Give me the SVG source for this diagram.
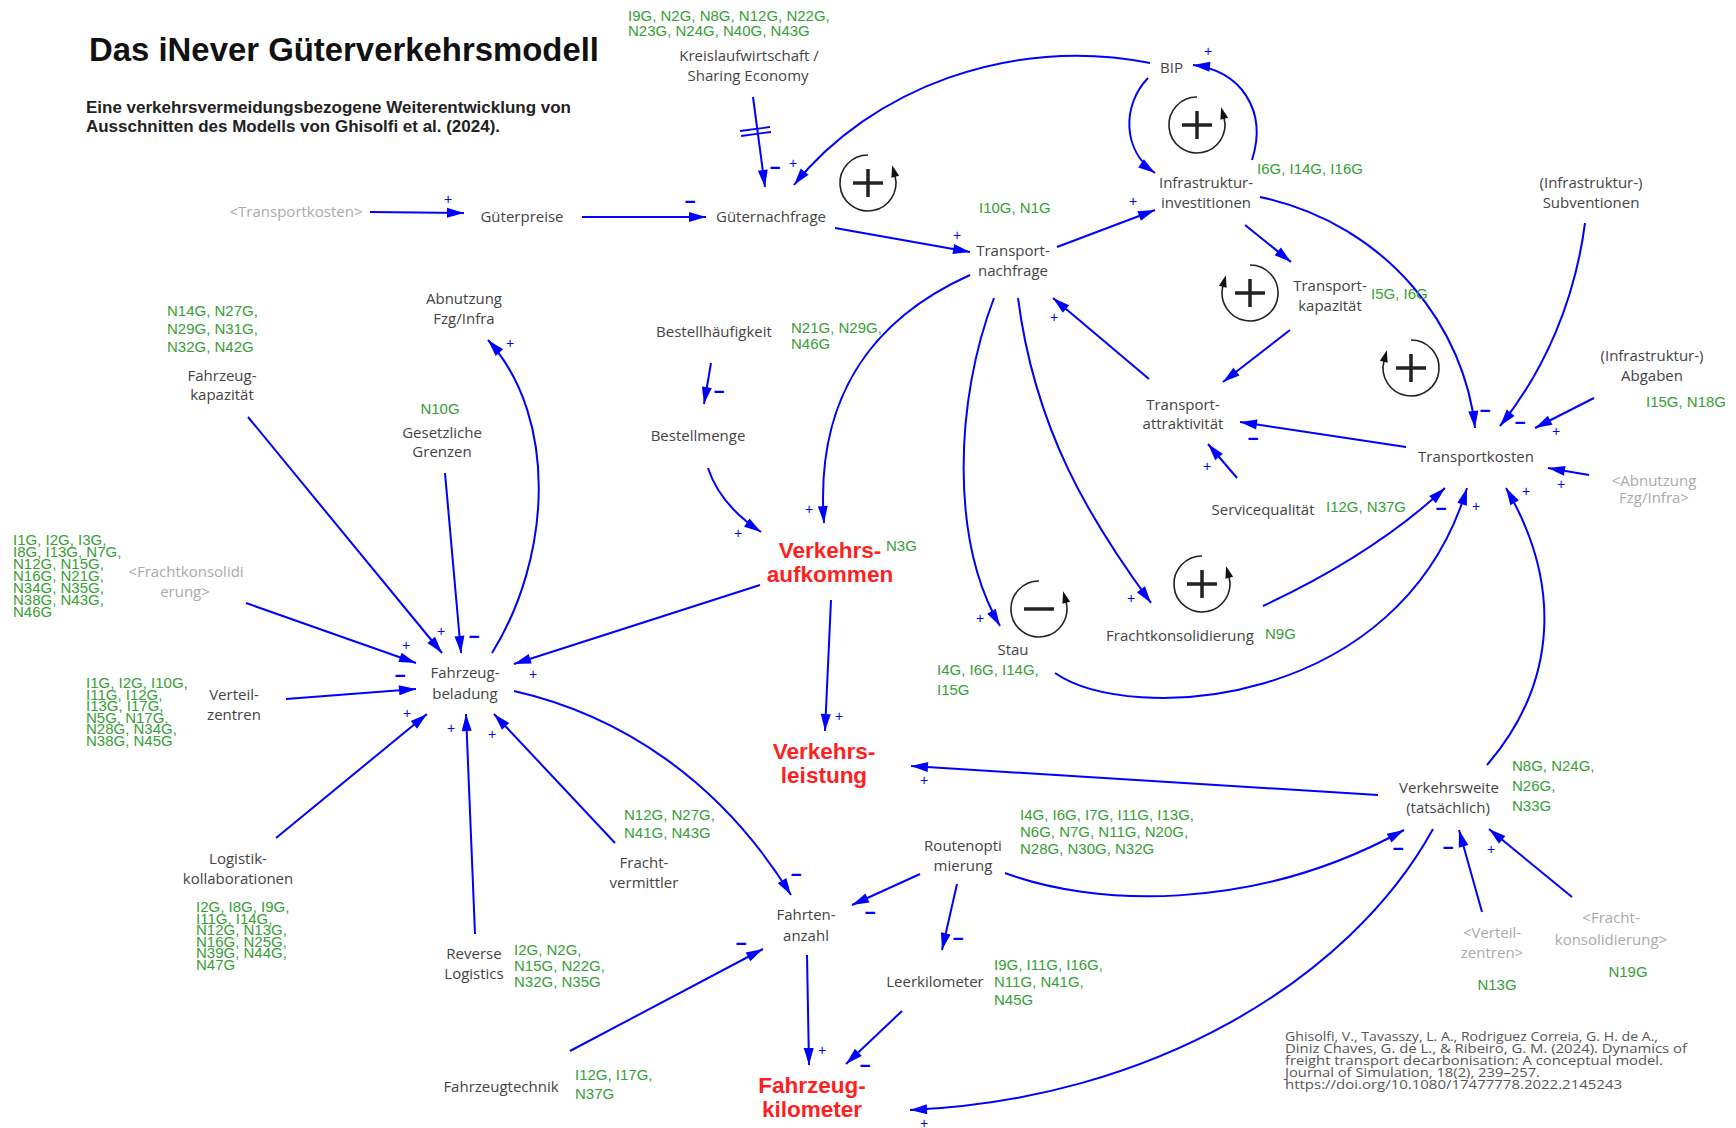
<svg xmlns="http://www.w3.org/2000/svg" width="1736" height="1128" viewBox="0 0 1736 1128">
<defs>
<style>
.n{font-family:"Open Sans","DejaVu Sans",sans-serif;font-size:15px;fill:#444;text-anchor:middle}
.sh{fill:#aaa}
.g{font-family:"Liberation Sans",Arial,sans-serif;font-size:15px;fill:#35a035}
.gm{text-anchor:middle}
.r{font-family:"Liberation Sans",Arial,sans-serif;font-size:22.5px;font-weight:bold;fill:#ff1f1f;text-anchor:middle}
.c{fill:none;stroke:#0000ff;stroke-width:2;marker-end:url(#ah)}
.hl{stroke:#0000ff;stroke-width:1.8}
.p{font-family:"Liberation Sans",Arial,sans-serif;font-size:14px;fill:#0000ff;text-anchor:middle}
.m{font-family:"Liberation Sans",Arial,sans-serif;font-size:19px;font-weight:bold;fill:#0000ff;text-anchor:middle}
.lp{fill:none;stroke:#222;stroke-width:1.6;marker-end:url(#lh)}
.ls{stroke:#222;stroke-width:3.5}
.cit{font-family:"Open Sans","DejaVu Sans",sans-serif;font-size:13px;fill:#555}
</style>
<marker id="ah" markerUnits="userSpaceOnUse" markerWidth="20" markerHeight="12" refX="17" refY="5" orient="auto" overflow="visible"><path d="M0,0 L17,5 L0,10 z" fill="#0000ff"/></marker>
<marker id="lh" markerUnits="userSpaceOnUse" markerWidth="14" markerHeight="10" refX="1" refY="4" orient="auto" overflow="visible"><path d="M0,0 L12,4 L0,8 z" fill="#111"/></marker>
</defs>
<rect width="1736" height="1128" fill="#fff"/>

<g id="title">
<text x="89" y="61" font-family="'Liberation Sans',Arial,sans-serif" font-size="33" font-weight="bold" fill="#111" textLength="510" lengthAdjust="spacingAndGlyphs">Das iNever Güterverkehrsmodell</text>
<text x="86" y="113" font-family="'Liberation Sans',Arial,sans-serif" font-size="16" font-weight="bold" fill="#222" textLength="485" lengthAdjust="spacingAndGlyphs">Eine verkehrsvermeidungsbezogene Weiterentwicklung von</text>
<text x="86" y="132" font-family="'Liberation Sans',Arial,sans-serif" font-size="16" font-weight="bold" fill="#222" textLength="414" lengthAdjust="spacingAndGlyphs">Ausschnitten des Modells von Ghisolfi et al. (2024).</text>
</g>

<g id="connectors">
<path class="c" d="M370,212 L464,213"/>
<path class="c" d="M582,217 L706,217"/>
<path class="c" d="M753,97 L765,187"/>
<line class="hl" x1="740" y1="131" x2="770" y2="127"/>
<line class="hl" x1="741" y1="136" x2="771" y2="132"/>
<path class="c" d="M1150,63 C1010,35 870,90 794,185"/>
<path class="c" d="M835,228 L970,252"/>
<path class="c" d="M1057,247 L1155,210"/>
<path class="c" d="M1148,78 C1122,105 1122,150 1155,173"/>
<path class="c" d="M1252,160 C1268,110 1240,70 1193,65"/>
<path class="c" d="M1245,225 L1291,262"/>
<path class="c" d="M1260,197 C1390,225 1465,330 1475,428"/>
<path class="c" d="M1290,330 L1223,382"/>
<path class="c" d="M1585,223 C1575,300 1545,370 1500,426"/>
<path class="c" d="M1594,398 L1535,428"/>
<path class="c" d="M1589,475 L1548,468"/>
<path class="c" d="M1406,447 L1240,422"/>
<path class="c" d="M1237,478 L1208,444"/>
<path class="c" d="M1149,379 L1053,298"/>
<path class="c" d="M970,275 C870,320 815,400 824,523"/>
<path class="c" d="M994,298 C955,400 950,540 1000,626"/>
<path class="c" d="M1018,298 C1035,430 1090,520 1151,603"/>
<path class="c" d="M1055,673 C1130,725 1400,710 1467,488"/>
<path class="c" d="M1263,606 C1340,570 1400,530 1445,488"/>
<path class="c" d="M1487,765 C1560,680 1560,580 1506,488"/>
<path class="c" d="M711,363 L704,404"/>
<path class="c" d="M708,468 Q720,505 761,532"/>
<path class="c" d="M831,600 L825,731"/>
<path class="c" d="M760,585 L514,664"/>
<path class="c" d="M248,417 L442,653"/>
<path class="c" d="M445,473 L461,653"/>
<path class="c" d="M492,653 C550,560 560,420 488,340"/>
<path class="c" d="M246,603 L416,663"/>
<path class="c" d="M286,699 L416,689"/>
<path class="c" d="M276,838 L427,714"/>
<path class="c" d="M475,934 L466,714"/>
<path class="c" d="M615,843 L494,714"/>
<path class="c" d="M514,691 C620,715 720,780 791,895"/>
<path class="c" d="M570,1051 L763,949"/>
<path class="c" d="M920,874 L852,905"/>
<path class="c" d="M957,884 L942,950"/>
<path class="c" d="M1005,873 C1090,905 1250,915 1404,830"/>
<path class="c" d="M807,955 L809,1065"/>
<path class="c" d="M902,1011 L846,1064"/>
<path class="c" d="M1433,829 C1350,980 1150,1100 910,1110"/>
<path class="c" d="M1378,795 L911,766"/>
<path class="c" d="M1482,912 L1459,830"/>
<path class="c" d="M1572,897 L1489,829"/>
</g>

<g id="polarity">
<text class="p" x="448" y="204">+</text>
<text class="p" x="793" y="168">+</text>
<text class="p" x="957" y="240">+</text>
<text class="p" x="1133" y="206">+</text>
<text class="p" x="1208" y="56">+</text>
<text class="p" x="1054" y="322">+</text>
<text class="p" x="809" y="514">+</text>
<text class="p" x="738" y="538">+</text>
<text class="p" x="839" y="721">+</text>
<text class="p" x="980" y="623">+</text>
<text class="p" x="1131" y="603">+</text>
<text class="p" x="1476" y="511">+</text>
<text class="p" x="1526" y="496">+</text>
<text class="p" x="1556" y="436">+</text>
<text class="p" x="1561" y="489">+</text>
<text class="p" x="1207" y="471">+</text>
<text class="p" x="533" y="679">+</text>
<text class="p" x="441" y="636">+</text>
<text class="p" x="510" y="348">+</text>
<text class="p" x="406" y="650">+</text>
<text class="p" x="407" y="718">+</text>
<text class="p" x="451" y="733">+</text>
<text class="p" x="492" y="739">+</text>
<text class="p" x="822" y="1055">+</text>
<text class="p" x="924" y="785">+</text>
<text class="p" x="924" y="1128">+</text>
<text class="p" x="1491" y="854">+</text>
<text class="m" x="690" y="208">−</text>
<text class="m" x="775" y="174">−</text>
<text class="m" x="1485" y="417">−</text>
<text class="m" x="1520" y="429">−</text>
<text class="m" x="1253" y="445">−</text>
<text class="m" x="719" y="398">−</text>
<text class="m" x="474" y="643">−</text>
<text class="m" x="400" y="682">−</text>
<text class="m" x="796" y="881">−</text>
<text class="m" x="741" y="950">−</text>
<text class="m" x="870" y="919">−</text>
<text class="m" x="958" y="945">−</text>
<text class="m" x="1398" y="855">−</text>
<text class="m" x="865" y="1072">−</text>
<text class="m" x="1441" y="515">−</text>
<text class="m" x="1448" y="854">−</text>
</g>

<g id="loops">
<g id="loop-R1"><path class="lp" d="M868,155 A28,28 0 1,0 895,175.8"/><line class="ls" x1="853" y1="183" x2="883" y2="183"/><line class="ls" x1="868" y1="169" x2="868" y2="197"/></g>
<g id="loop-R2"><path class="lp" d="M1197,97 A28,28 0 1,0 1224,117.8"/><line class="ls" x1="1182" y1="125" x2="1212" y2="125"/><line class="ls" x1="1197" y1="111" x2="1197" y2="139"/></g>
<g id="loop-R3"><path class="lp" d="M1250,265 A28,28 0 1,1 1223,285.8"/><line class="ls" x1="1235" y1="293" x2="1265" y2="293"/><line class="ls" x1="1250" y1="279" x2="1250" y2="307"/></g>
<g id="loop-R4"><path class="lp" d="M1411,340 A28,28 0 1,1 1384,360.8"/><line class="ls" x1="1396" y1="368" x2="1426" y2="368"/><line class="ls" x1="1411" y1="354" x2="1411" y2="382"/></g>
<g id="loop-B1"><path class="lp" d="M1039,581 A28,28 0 1,0 1066,601.8"/><line class="ls" x1="1024" y1="609" x2="1054" y2="609"/></g>
<g id="loop-R5"><path class="lp" d="M1202,556 A28,28 0 1,0 1229,576.8"/><line class="ls" x1="1187" y1="584" x2="1217" y2="584"/><line class="ls" x1="1202" y1="570" x2="1202" y2="598"/></g>
</g>

<g id="n-kreislauf"><text class="n" x="749" y="61">Kreislaufwirtschaft /</text><text class="n" x="748" y="81">Sharing Economy</text></g>
<g id="n-transportkosten-shadow"><text class="n sh" x="296" y="217">&lt;Transportkosten&gt;</text></g>
<g id="n-gueterpreise"><text class="n" x="522" y="222">Güterpreise</text></g>
<g id="n-gueternachfrage"><text class="n" x="771" y="222">Güternachfrage</text></g>
<g id="n-bip"><text class="n" x="1160" y="73" text-anchor="start" style="text-anchor:start">BIP</text></g>
<g id="n-infrastruktur"><text class="n" x="1206" y="188">Infrastruktur-</text><text class="n" x="1206" y="208">investitionen</text></g>
<g id="n-transportnachfrage"><text class="n" x="1013" y="256">Transport-</text><text class="n" x="1013" y="276">nachfrage</text></g>
<g id="n-transportkapazitaet"><text class="n" x="1330" y="291">Transport-</text><text class="n" x="1330" y="311">kapazität</text></g>
<g id="n-subventionen"><text class="n" x="1591" y="188">(Infrastruktur-)</text><text class="n" x="1591" y="208">Subventionen</text></g>
<g id="n-abgaben"><text class="n" x="1652" y="361">(Infrastruktur-)</text><text class="n" x="1652" y="381">Abgaben</text></g>
<g id="n-attraktivitaet"><text class="n" x="1183" y="410">Transport-</text><text class="n" x="1183" y="429">attraktivität</text></g>
<g id="n-transportkosten"><text class="n" x="1476" y="462">Transportkosten</text></g>
<g id="n-abnutzung-shadow"><text class="n sh" x="1654" y="486">&lt;Abnutzung</text><text class="n sh" x="1654" y="503">Fzg/Infra&gt;</text></g>
<g id="n-servicequalitaet"><text class="n" x="1263" y="515">Servicequalität</text></g>
<g id="n-bestellhaeufigkeit"><text class="n" x="714" y="337">Bestellhäufigkeit</text></g>
<g id="n-bestellmenge"><text class="n" x="698" y="441">Bestellmenge</text></g>
<g id="n-verkehrsaufkommen"><text class="r" x="830" y="558">Verkehrs-</text><text class="r" x="830" y="582">aufkommen</text></g>
<g id="n-stau"><text class="n" x="1013" y="655">Stau</text></g>
<g id="n-frachtkonsolidierung"><text class="n" x="1180" y="641">Frachtkonsolidierung</text></g>
<g id="n-abnutzung"><text class="n" x="464" y="304">Abnutzung</text><text class="n" x="464" y="324">Fzg/Infra</text></g>
<g id="n-fahrzeugkapazitaet"><text class="n" x="222" y="381">Fahrzeug-</text><text class="n" x="222" y="400">kapazität</text></g>
<g id="n-grenzen"><text class="n" x="442" y="438">Gesetzliche</text><text class="n" x="442" y="457">Grenzen</text></g>
<g id="n-frachtkonsolidierung-shadow"><text class="n sh" x="186" y="577">&lt;Frachtkonsolidi</text><text class="n sh" x="185" y="597">erung&gt;</text></g>
<g id="n-verteilzentren"><text class="n" x="234" y="700">Verteil-</text><text class="n" x="234" y="720">zentren</text></g>
<g id="n-fahrzeugbeladung"><text class="n" x="465" y="678">Fahrzeug-</text><text class="n" x="465" y="699">beladung</text></g>
<g id="n-logistik"><text class="n" x="238" y="864">Logistik-</text><text class="n" x="238" y="884">kollaborationen</text></g>
<g id="n-reverse"><text class="n" x="474" y="959">Reverse</text><text class="n" x="474" y="979">Logistics</text></g>
<g id="n-fahrzeugtechnik"><text class="n" x="501" y="1092">Fahrzeugtechnik</text></g>
<g id="n-frachtvermittler"><text class="n" x="644" y="868">Fracht-</text><text class="n" x="644" y="888">vermittler</text></g>
<g id="n-verkehrsleistung"><text class="r" x="824" y="759">Verkehrs-</text><text class="r" x="824" y="783">leistung</text></g>
<g id="n-fahrtenanzahl"><text class="n" x="806" y="920">Fahrten-</text><text class="n" x="806" y="941">anzahl</text></g>
<g id="n-routenoptimierung"><text class="n" x="963" y="851">Routenopti</text><text class="n" x="963" y="871">mierung</text></g>
<g id="n-leerkilometer"><text class="n" x="935" y="987">Leerkilometer</text></g>
<g id="n-fahrzeugkilometer"><text class="r" x="812" y="1093">Fahrzeug-</text><text class="r" x="812" y="1117">kilometer</text></g>
<g id="n-verkehrsweite"><text class="n" x="1449" y="793">Verkehrsweite</text><text class="n" x="1448" y="813">(tatsächlich)</text></g>
<g id="n-verteilzentren-shadow"><text class="n sh" x="1492" y="938">&lt;Verteil-</text><text class="n sh" x="1492" y="958">zentren&gt;</text></g>
<g id="n-frachtkonsolidierung-shadow2"><text class="n sh" x="1611" y="923">&lt;Fracht-</text><text class="n sh" x="1611" y="945">konsolidierung&gt;</text></g>

<g id="codes">
<text class="g" x="628" y="21">I9G, N2G, N8G, N12G, N22G,</text>
<text class="g" x="628" y="36">N23G, N24G, N40G, N43G</text>
<text class="g" x="979" y="213">I10G, N1G</text>
<text class="g" x="1257" y="174">I6G, I14G, I16G</text>
<text class="g" x="1371" y="299">I5G, I6G</text>
<text class="g" x="167" y="316">N14G, N27G,</text>
<text class="g" x="167" y="334">N29G, N31G,</text>
<text class="g" x="167" y="352">N32G, N42G</text>
<text class="g" x="791" y="333">N21G, N29G,</text>
<text class="g" x="791" y="349">N46G</text>
<text class="g gm" x="440" y="414">N10G</text>
<text class="g" x="1326" y="512">I12G, N37G</text>
<text class="g" x="1646" y="407">I15G, N18G</text>
<text class="g" x="886" y="551" font-size="14">N3G</text>
<text class="g" x="937" y="675">I4G, I6G, I14G,</text>
<text class="g" x="937" y="695">I15G</text>
<text class="g" x="1265" y="639">N9G</text>
<text class="g" x="13" y="545">I1G, I2G, I3G,</text>
<text class="g" x="13" y="557">I8G, I13G, N7G,</text>
<text class="g" x="13" y="569">N12G, N15G,</text>
<text class="g" x="13" y="581">N16G, N21G,</text>
<text class="g" x="13" y="593">N34G, N35G,</text>
<text class="g" x="13" y="605">N38G, N43G,</text>
<text class="g" x="13" y="617">N46G</text>
<text class="g" x="86" y="688">I1G, I2G, I10G,</text>
<text class="g" x="86" y="699.5">I11G, I12G,</text>
<text class="g" x="86" y="711">I13G, I17G,</text>
<text class="g" x="86" y="722.5">N5G, N17G,</text>
<text class="g" x="86" y="734">N28G, N34G,</text>
<text class="g" x="86" y="745.5">N38G, N45G</text>
<text class="g" x="196" y="912">I2G, I8G, I9G,</text>
<text class="g" x="196" y="923.5">I11G, I14G,</text>
<text class="g" x="196" y="935">N12G, N13G,</text>
<text class="g" x="196" y="946.5">N16G, N25G,</text>
<text class="g" x="196" y="958">N39G, N44G,</text>
<text class="g" x="196" y="969.5">N47G</text>
<text class="g" x="624" y="820">N12G, N27G,</text>
<text class="g" x="624" y="838">N41G, N43G</text>
<text class="g" x="1020" y="820">I4G, I6G, I7G, I11G, I13G,</text>
<text class="g" x="1020" y="837">N6G, N7G, N11G, N20G,</text>
<text class="g" x="1020" y="854">N28G, N30G, N32G</text>
<text class="g" x="1512" y="771">N8G, N24G,</text>
<text class="g" x="1512" y="791">N26G,</text>
<text class="g" x="1512" y="811">N33G</text>
<text class="g" x="514" y="955">I2G, N2G,</text>
<text class="g" x="514" y="971">N15G, N22G,</text>
<text class="g" x="514" y="987">N32G, N35G</text>
<text class="g" x="994" y="970">I9G, I11G, I16G,</text>
<text class="g" x="994" y="987">N11G, N41G,</text>
<text class="g" x="994" y="1005">N45G</text>
<text class="g" x="575" y="1080">I12G, I17G,</text>
<text class="g" x="575" y="1099">N37G</text>
<text class="g gm" x="1497" y="990">N13G</text>
<text class="g gm" x="1628" y="977">N19G</text>
</g>

<g id="citation">
<text class="cit" x="1285" y="1041" textLength="373" lengthAdjust="spacingAndGlyphs">Ghisolfi, V., Tavasszy, L. A., Rodriguez Correia, G. H. de A.,</text>
<text class="cit" x="1285" y="1053" textLength="402" lengthAdjust="spacingAndGlyphs">Diniz Chaves, G. de L., &amp; Ribeiro, G. M. (2024). Dynamics of</text>
<text class="cit" x="1285" y="1065" textLength="378" lengthAdjust="spacingAndGlyphs">freight transport decarbonisation: A conceptual model.</text>
<text class="cit" x="1285" y="1077" textLength="255" lengthAdjust="spacingAndGlyphs">Journal of Simulation, 18(2), 239–257.</text>
<text class="cit" x="1285" y="1089" textLength="337" lengthAdjust="spacingAndGlyphs">https://doi.org/10.1080/17477778.2022.2145243</text>
</g>
</svg>
